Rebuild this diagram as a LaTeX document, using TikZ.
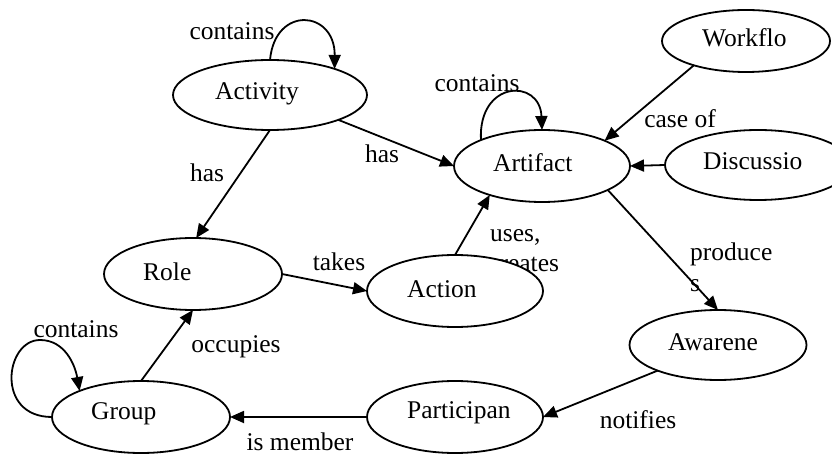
\documentclass[tikz,border=0pt]{standalone}
\usepackage{fontspec}
\setmainfont{Liberation Serif}
\usetikzlibrary{shapes.geometric,arrows.meta}
\begin{document}
\begin{tikzpicture}[x=1pt,y=-1pt,
  ell/.style={draw,ellipse,line width=1.8pt,fill=white,inner sep=0pt,outer sep=0pt},
  txt/.style={inner sep=0pt,anchor=base west,font=\fontsize{25.5}{30}\selectfont},
  lbl/.style={inner sep=0pt,anchor=base,font=\fontsize{25.5}{30}\selectfont},
  lbll/.style={inner sep=0pt,anchor=base west,font=\fontsize{25.5}{30}\selectfont},
  arr/.style={line width=1.8pt,-{Triangle[length=14pt,width=12pt]}}]
\useasboundingbox (0,0) rectangle (832,454);
\clip (0,0) rectangle (832,454);
% label partly hidden under the Action ellipse
\node[lbll] (lUses) at (490,242) {uses,};
\node[lbll] (lCreates) at (488,272) {creates};
% ellipses
\node[ell,minimum width=194pt,minimum height=70pt] (act) at (270,95) {};
\node[ell,minimum width=176pt,minimum height=72pt] (art) at (542,166) {};
\node[ell,minimum width=168pt,minimum height=62pt] (wf) at (746,41) {};
\node[ell,minimum width=186pt,minimum height=70pt] (disc) at (758,165) {};
\node[ell,minimum width=178pt,minimum height=72pt] (role) at (193,274) {};
\node[ell,minimum width=176pt,minimum height=72pt] (action) at (455,291) {};
\node[ell,minimum width=177pt,minimum height=70pt] (aw) at (718,345) {};
\node[ell,minimum width=176pt,minimum height=72pt] (part) at (455,417) {};
\node[ell,minimum width=178pt,minimum height=72pt] (grp) at (141,417) {};
% texts in ellipses
\node[txt] (actT) at (215,100) {Activity};
\node[txt] (artT) at (493,172) {Artifact};
\node[txt] (wfT) at (702,47) {Workflo};
\node[txt] (discT) at (703,170) {Discussio};
\node[txt] (roleT) at (143,280) {Role};
\node[txt] (actionT) at (407,297) {Action};
\node[txt] (awT) at (668,350) {Awarene};
\node[txt] (partT) at (407,418) {Participan};
\node[txt] (grpT) at (91,419) {Group};
% connectors
\draw[arr] (act.-20) -- (art.180);
\draw[arr] (act.-90) -- (role.85);
\draw[arr] (role.0) -- (action.180);
\draw[arr] (action.90) -- (art.-151);
\draw[arr] (wf.205) -- (art.22);
\draw[arr] (disc.180) -- (art.0);
\draw[arr] (art.-20) -- (aw.90);
\draw[arr] (aw.203) -- (part.0);
\draw[arr] (part.180) -- (grp.0);
\draw[arr] (grp.90) -- (role.-90);
% self loops
\draw[arr] (act.90) .. controls (275,5) and (335,10) .. (act.22);
\draw[arr] (art.157) .. controls (478,80) and (540,78) .. (art.90);
\draw[arr] (grp.180) .. controls (-5,417) and (5,340) .. (40,340)
  .. controls (65,340) and (75,365) .. (grp.157);
% edge labels
\node[lbl] (l1) at (232,40) {contains};
\node[lbl] (l2) at (382,163) {has};
\node[lbl] (l3) at (207,182) {has};
\node[lbl] (l4) at (477,92) {contains};
\node[lbl] (l5) at (680,128) {case of};
\node[lbl] (l6) at (339,270) {takes};
\node[lbll] (l7) at (690,261) {produce};
\node[lbll] (l8) at (690,291) {s};
\node[lbl] (l9) at (236,352) {occupies};
\node[lbl] (l10) at (76,337) {contains};
\node[lbl] (l11) at (300,450) {is member};
\node[lbl] (l12) at (638,428) {notifies};
\end{tikzpicture}
\end{document}
